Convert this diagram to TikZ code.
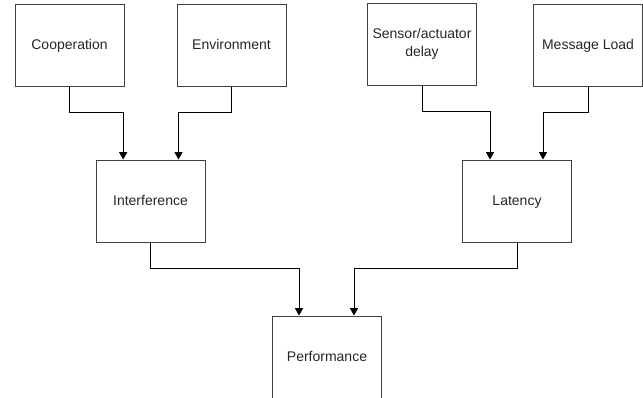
\documentclass[tikz,border=0pt]{standalone}
\usepackage{fontspec}
\setmainfont{Liberation Sans}
\usetikzlibrary{arrows.meta}
\tikzset{
  block/.style={draw=black!75, line width=0.75pt, minimum width=81.75pt,
    minimum height=61.5pt, inner sep=0pt, align=center, text=black!85,
    text height=1.6ex, text depth=.4ex,
    font=\fontsize{10.5}{13}\selectfont},
  link/.style={line width=0.75pt, -{Triangle[width=6pt,length=5.5pt]}}
}
\begin{document}
\begin{tikzpicture}[x=0.75pt,y=-0.75pt]
  \useasboundingbox (0,0) rectangle (643,397);

  \node[block] (coop) at ( 69.5,45) {Cooperation};
  \node[block] (env)  at (231.5,45) {Environment};
  \node[block, text height=, text depth=] (sens) at (422,44) {Sensor/actuator\\delay};
  \node[block] (msg)  at (588,45)   {Message Load};
  \node[block] (inter) at (150.5,201) {Interference};
  \node[block] (lat)   at (517,201)   {Latency};
  \node[block] (perf)  at (327,357)   {Performance};

  \draw[link] (coop.south) -- ++(0,26) -| ([xshift=-20.5pt]inter.north);
  \draw[link] (env.south)  -- ++(0,26) -| ([xshift=21pt]inter.north);
  \draw[link] (sens.south) -- ++(0,26) -| ([xshift=-20.25pt]lat.north);
  \draw[link] (msg.south)  -- ++(0,26) -| ([xshift=19.5pt]lat.north);

  \draw[link] (inter.south) -- ++(0,26) -| ([xshift=-21pt]perf.north);
  \draw[link] (lat.south)   -- ++(0,26) -| ([xshift=20.25pt]perf.north);
\end{tikzpicture}
\end{document}
